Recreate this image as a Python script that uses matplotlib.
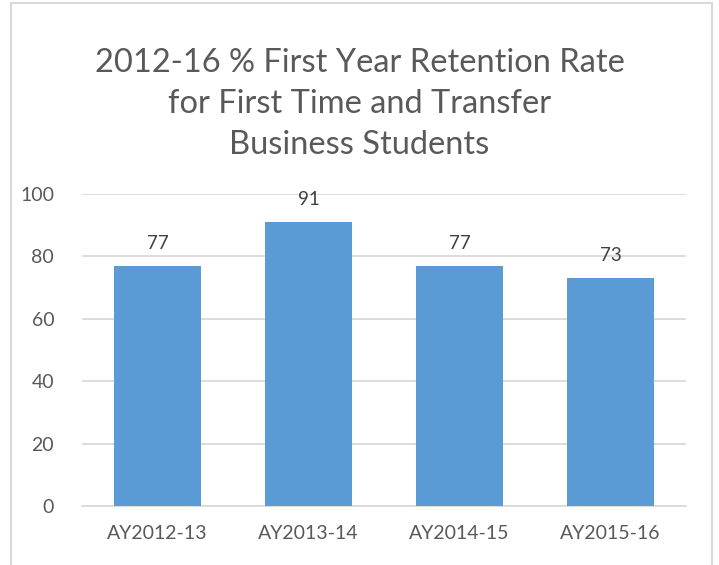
import matplotlib.pyplot as plt
from matplotlib.patches import Rectangle

# Retention data
categories = ["AY2012-13", "AY2013-14", "AY2014-15", "AY2015-16"]
retention = [77, 91, 77, 73]
y_ticks = [0, 20, 40, 60, 80, 100]

bar_color = "#5B9BD5"
text_color = "#595959"
grid_color = "#D9D9D9"

plt.rcParams["font.family"] = ["Lato", "DejaVu Sans"]

fig = plt.figure(figsize=(7.19, 5.65), dpi=100)
ax = fig.add_axes([0.114, 0.1044, 0.840, 0.5522])

x = range(len(categories))
bars = ax.bar(x, retention, width=0.58, color=bar_color, zorder=3)

# Value labels above each bar
for xi, v in zip(x, retention):
    ax.text(xi, v + 4.5, str(v), ha="center", va="bottom",
            fontsize=13.5, color="#404040")

ax.set_xlim(-0.5, len(categories) - 0.5)
ax.set_ylim(0, 100)
ax.set_yticks(y_ticks)
ax.set_xticks(list(x))
ax.set_xticklabels(categories)
ax.tick_params(axis="both", length=0, labelsize=14, colors=text_color)
ax.tick_params(axis="y", pad=20)
ax.tick_params(axis="x", pad=14)
ax.yaxis.grid(True, color=grid_color, linewidth=1.3, zorder=0)
for side in ["top", "right", "left"]:
    ax.spines[side].set_visible(False)
ax.spines["bottom"].set_color(grid_color)
ax.spines["bottom"].set_linewidth(1.3)

fig.text(0.5, 0.816, "2012-16 % First Year Retention Rate\n"
         "for First Time and Transfer\nBusiness Students",
         ha="center", va="center", fontsize=23.5, color=text_color,
         linespacing=1.45)

# Chart area border
fig.patches.append(Rectangle((11 / 719, -0.05), 701 / 719, 1.045,
                             transform=fig.transFigure, fill=False,
                             edgecolor=grid_color, linewidth=1.5))

fig.savefig("out.png", dpi=100)
